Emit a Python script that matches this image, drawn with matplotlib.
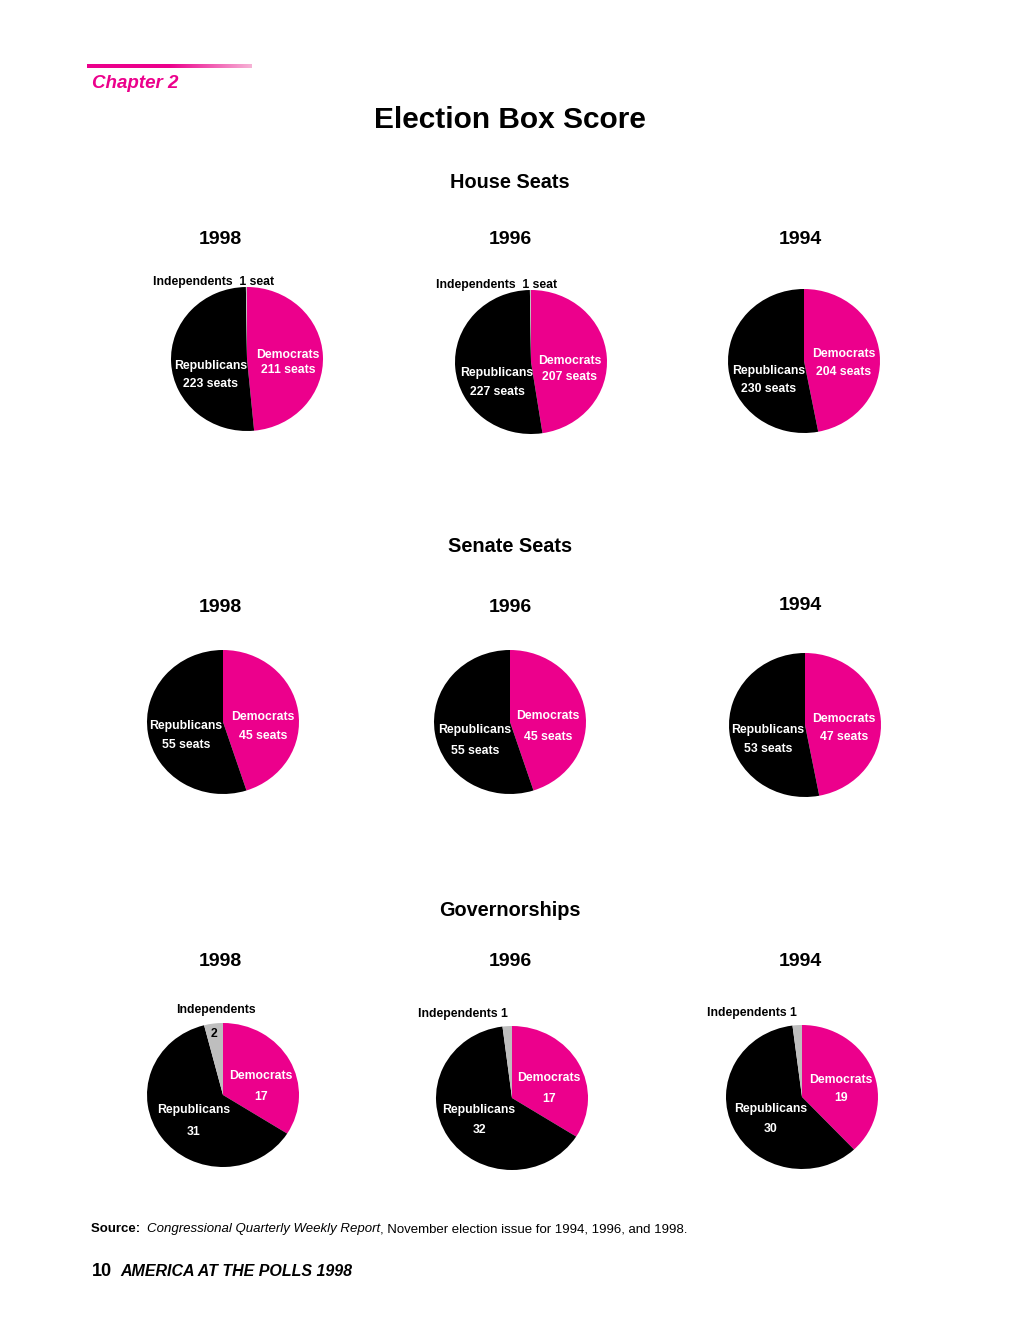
import matplotlib
matplotlib.use('Agg')
import matplotlib.pyplot as plt
import numpy as np
from matplotlib.colors import LinearSegmentedColormap

plt.rcParams['font.family'] = ['Liberation Sans', 'DejaVu Sans']

# ---------------- data ----------------
years = ['1998', '1996', '1994']
house_dem = [211, 207, 204]
house_rep = [223, 227, 230]
house_ind = [1, 1, 0]
senate_dem = [45, 45, 47]
senate_rep = [55, 55, 53]
senate_ind = [0, 0, 0]
gov_dem = [17, 17, 19]
gov_rep = [31, 32, 30]
gov_ind = [2, 1, 1]
party_names = ['Democrats', 'Republicans', 'Independents']
section_titles = ['House Seats', 'Senate Seats', 'Governorships']

MAGENTA = '#EC008C'
BLACK = '#000000'
GRAY = '#BEBEBE'

W, H = 1020, 1320
fig = plt.figure(figsize=(W / 100, H / 100), dpi=100)

# layout (pixels)
centers = [[(247, 359), (531, 362), (804, 361)],
           [(223, 722), (510, 722), (805, 725)],
           [(223, 1095), (512, 1098), (802, 1097)]]
RX, RY = 76, 72
title_y = [183, 546, 910]
year_y = [[239, 239, 239], [608, 608, 605], [961, 961, 961]]
year_x = [220, 510, 800]
dem_pos = [[(288, 355, 370), (570, 361, 377), (844, 354, 372)],
           [(263, 717, 736), (548, 716, 737), (844, 719, 737)],
           [(261, 1076, 1097), (549, 1078, 1099), (841, 1080, 1098)]]
rep_pos = [[(211, 366, 384), (497, 373, 392), (769, 371, 389)],
           [(186, 726, 745), (475, 730, 751), (768, 730, 749)],
           [(194, 1110, 1132), (479, 1110, 1130), (771, 1109, 1129)]]

sections = [(house_dem, house_rep, house_ind, 'seats'),
            (senate_dem, senate_rep, senate_ind, 'seats'),
            (gov_dem, gov_rep, gov_ind, None)]

LBL = 8.8

# pie axes
for r, (dem, rep, ind, unit) in enumerate(sections):
    for c in range(3):
        cx, cy = centers[r][c]
        ax = fig.add_axes([(cx - RX) / W, 1 - (cy + RY) / H, 2 * RX / W, 2 * RY / H])
        vals = [dem[c], rep[c], ind[c]]
        cols = [MAGENTA, BLACK, GRAY]
        ax.pie(vals, colors=cols, startangle=90, counterclock=False,
               radius=1.0, wedgeprops=dict(linewidth=0))
        ax.set_aspect('auto')
        ax.set_xlim(-1.0, 1.0)
        ax.set_ylim(-1.0, 1.0)
        ax.axis('off')

# overlay for text
ov = fig.add_axes([0, 0, 1, 1], zorder=10)
ov.set_xlim(0, W)
ov.set_ylim(H, 0)
ov.axis('off')
ov.patch.set_alpha(0)

# chapter bar with gradient
cmap = LinearSegmentedColormap.from_list('bar', [MAGENTA, MAGENTA, '#F7B3D6'])
grad = np.linspace(0, 1, 256).reshape(1, -1)
ov.imshow(grad, cmap=cmap, extent=(87, 252, 68, 64), aspect='auto', zorder=1)
ov.set_xlim(0, W)
ov.set_ylim(H, 0)
ov.text(92, 84, 'Chapter 2', color=MAGENTA, fontsize=13.5, fontweight='bold',
        fontstyle='italic', ha='left', va='center')

ov.text(510, 120, 'Election Box Score', fontsize=21.5, fontweight='bold',
        ha='center', va='center')

for r, (dem, rep, ind, unit) in enumerate(sections):
    ov.text(510, title_y[r], section_titles[r], fontsize=14.3, fontweight='bold',
            ha='center', va='center')
    for c in range(3):
        ov.text(year_x[c], year_y[r][c], years[c], fontsize=14, fontweight='bold',
                ha='center', va='center')
        dx, dy1, dy2 = dem_pos[r][c]
        rx, ry1, ry2 = rep_pos[r][c]
        dval = f'{dem[c]} {unit}' if unit else f'{dem[c]}'
        rval = f'{rep[c]} {unit}' if unit else f'{rep[c]}'
        ov.text(dx, dy1, party_names[0], color='white', fontsize=LBL, fontweight='bold', ha='center', va='center')
        ov.text(dx, dy2, dval, color='white', fontsize=LBL, fontweight='bold', ha='center', va='center')
        ov.text(rx, ry1, party_names[1], color='white', fontsize=LBL, fontweight='bold', ha='center', va='center')
        ov.text(rx, ry2, rval, color='white', fontsize=LBL, fontweight='bold', ha='center', va='center')

# independents labels
ov.text(214, 282, f'{party_names[2]}  {house_ind[0]} seat', fontsize=LBL, fontweight='bold', ha='center', va='center')
ov.text(497, 285, f'{party_names[2]}  {house_ind[1]} seat', fontsize=LBL, fontweight='bold', ha='center', va='center')
ov.text(216, 1010, party_names[2], fontsize=LBL, fontweight='bold', ha='center', va='center')
ov.text(214, 1034, f'{gov_ind[0]}', fontsize=LBL, fontweight='bold', ha='center', va='center')
ov.text(463, 1014, f'{party_names[2]} {gov_ind[1]}', fontsize=LBL, fontweight='bold', ha='center', va='center')
ov.text(752, 1013, f'{party_names[2]} {gov_ind[2]}', fontsize=LBL, fontweight='bold', ha='center', va='center')

# source line with mixed styles
fig.canvas.draw()
renderer = fig.canvas.get_renderer()
pieces = [('Source:  ', dict(fontweight='bold')),
          ('Congressional Quarterly Weekly Report', dict(fontstyle='italic')),
          (', November election issue for 1994, 1996, and 1998.', dict())]
x = 91
for s, kw in pieces:
    t = ov.text(x, 1229, s, fontsize=9.5, ha='left', va='center', **kw)
    bb = t.get_window_extent(renderer=renderer)
    x += bb.width

ov.text(92, 1271, '10', fontsize=13, fontweight='bold', ha='left', va='center')
ov.text(120, 1271, 'AMERICA AT THE POLLS 1998', fontsize=11.5, fontweight='bold',
        fontstyle='italic', ha='left', va='center')

fig.savefig('out.png', dpi=100)
